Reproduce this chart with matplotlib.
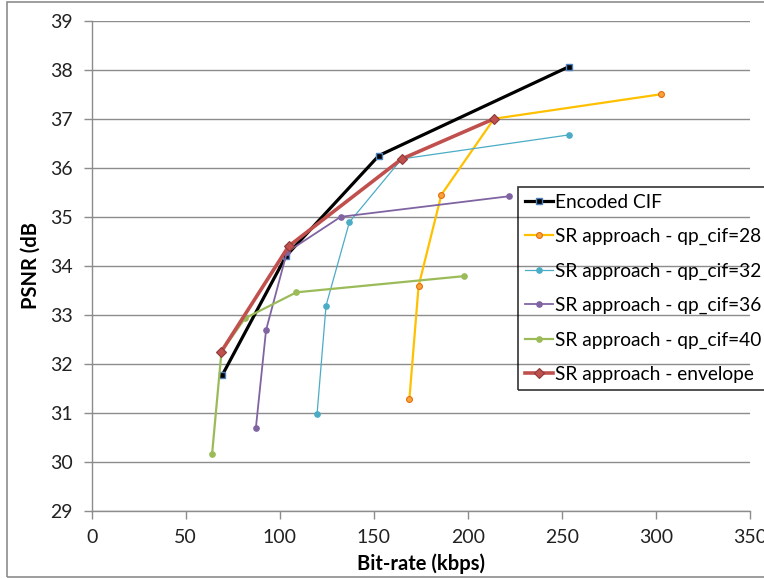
import matplotlib
matplotlib.use("Agg")
import matplotlib.pyplot as plt
from matplotlib.patches import Rectangle

plt.rcParams['font.family'] = ['Lato', 'DejaVu Sans']

# ---- data ----
enc_x = [69.4, 103.3, 152.7, 253.6]
enc_y = [31.77, 34.20, 36.25, 38.06]

qp28_x = [168.9, 173.8, 185.9, 213.9, 302.7]
qp28_y = [31.28, 33.59, 35.45, 37.00, 37.50]

qp32_x = [119.8, 124.6, 137.0, 164.8, 253.6]
qp32_y = [30.97, 33.19, 34.89, 36.18, 36.67]

qp36_x = [87.3, 92.7, 103.8, 132.4, 222.0]
qp36_y = [30.70, 32.69, 34.28, 35.00, 35.42]

qp40_x = [64.0, 69.0, 81.5, 108.8, 198.0]
qp40_y = [30.16, 32.25, 32.93, 33.46, 33.79]

env_x = [68.9, 104.7, 164.8, 213.9]
env_y = [32.25, 34.40, 36.18, 37.00]

labels = ["Encoded CIF",
          "SR approach - qp_cif=28",
          "SR approach - qp_cif=32",
          "SR approach - qp_cif=36",
          "SR approach - qp_cif=40",
          "SR approach - envelope"]

x_ticks = [0, 50, 100, 150, 200, 250, 300, 350]
y_ticks = [29, 30, 31, 32, 33, 34, 35, 36, 37, 38, 39]

W, H = 764, 578
fig = plt.figure(figsize=(W / 100, H / 100), dpi=100)
ax = fig.add_axes([91.7 / W, 1 - 511 / H, (750 - 91.7) / W, (511 - 20.7) / H])

grid_c = '#8c8c8c'

ax.plot(enc_x, enc_y, color='black', lw=2.3, marker='s', ms=5,
        mfc='black', mec='#4F81BD', mew=1.0, label=labels[0], zorder=3)
ax.plot(qp28_x, qp28_y, color='#FFC000', lw=1.6, marker='o', ms=4.2,
        mfc='#F9A43A', mec='#E46C0A', mew=0.8, label=labels[1], zorder=3)
ax.plot(qp32_x, qp32_y, color='#4BACC6', lw=0.9, marker='o', ms=3.8,
        mfc='#4BACC6', mec='#4BACC6', label=labels[2], zorder=3)
ax.plot(qp36_x, qp36_y, color='#8064A2', lw=1.3, marker='o', ms=3.8,
        mfc='#8064A2', mec='#8064A2', label=labels[3], zorder=3)
ax.plot(qp40_x, qp40_y, color='#9BBB59', lw=1.6, marker='o', ms=3.8,
        mfc='#9BBB59', mec='#9BBB59', label=labels[4], zorder=3)
ax.plot(env_x, env_y, color='#C0504D', lw=2.6, marker='D', ms=5,
        mfc='#C0504D', mec='#8B3A38', mew=0.8, label=labels[5], zorder=4)

ax.set_xlim(0, 350)
ax.set_ylim(29, 39)
ax.set_xticks(x_ticks)
ax.set_yticks(y_ticks)
ax.tick_params(axis='both', labelsize=14, colors=grid_c, labelcolor='#222222',
               length=5.8, width=1.0, direction='out')
ax.tick_params(axis='y', pad=8)
ax.tick_params(axis='x', pad=7)
ax.grid(axis='y', color=grid_c, lw=1.0)
ax.set_axisbelow(True)
for s in ['top', 'right']:
    ax.spines[s].set_visible(False)
for s in ['left', 'bottom']:
    ax.spines[s].set_color(grid_c)
    ax.spines[s].set_linewidth(1.0)

ax.set_xlabel("Bit-rate (kbps)", fontsize=14.5, fontweight='bold')
ax.xaxis.set_label_coords(0.5, -0.087)
ax.set_ylabel("PSNR (dB", fontsize=14.5, fontweight='bold')
ax.yaxis.set_label_coords(-0.077, 0.5)

leg = fig.legend(loc='upper left', bbox_to_anchor=(518 / W, 1 - 187 / H),
                 fontsize=13.8, frameon=True, fancybox=False,
                 handlelength=1.5, handletextpad=0.1, labelspacing=0.9,
                 borderaxespad=0, borderpad=0.35)
leg.get_frame().set_facecolor('none')
leg.get_frame().set_edgecolor('black')
leg.get_frame().set_linewidth(1.2)

fig.patches.append(Rectangle((7 / W, 1 - 577 / H), 1.2, (576 - 1) / H,
                             transform=fig.transFigure, fill=False,
                             edgecolor='#8c8c8c', lw=1.2))

fig.savefig("out.png", dpi=100)
